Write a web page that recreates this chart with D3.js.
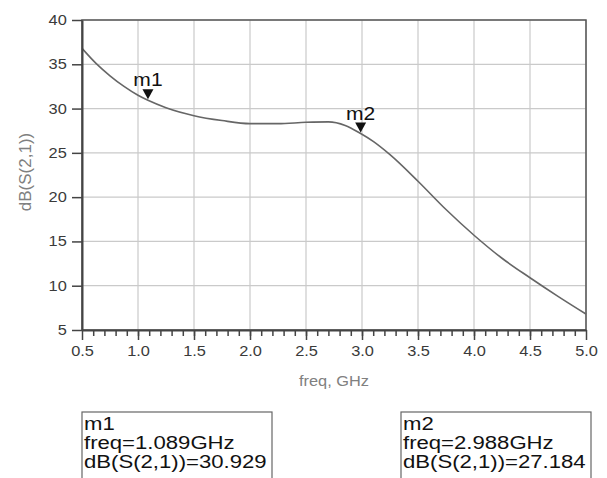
<!DOCTYPE html>
<html>
<head>
<meta charset="utf-8">
<script src="https://d3js.org/d3.v7.min.js"></script>
<style>
    body { margin: 0; background: #fff; }
    svg { display: block; font-family: "Liberation Sans", Arial, sans-serif; }
</style>
</head>
<body>
<script>
    // curve readings (freq in GHz, gain in dB)
    const freq = [0.5, 0.625, 0.75, 0.875, 1.0, 1.089, 1.25, 1.5, 1.75, 2.0, 2.25, 2.5, 2.7,
        2.85, 2.988, 3.1, 3.25, 3.5, 3.75, 4.0, 4.25, 4.5, 4.75, 5.0];
    const gain = [36.8, 35.1, 33.7, 32.5, 31.5, 30.929, 30.1, 29.2, 28.65, 28.3, 28.3, 28.45, 28.5,
        28.1, 27.184, 26.3, 24.8, 21.8, 18.6, 15.7, 13.1, 10.9, 8.8, 6.8];

    const marker_names = ["m1", "m2"];
    const marker_freq = [1.089, 2.988];
    const marker_val = [30.929, 27.184];

    const x_ticks = [0.5, 1.0, 1.5, 2.0, 2.5, 3.0, 3.5, 4.0, 4.5, 5.0];
    const y_ticks = [5, 10, 15, 20, 25, 30, 35, 40];

    const svg_w = 607, svg_h = 478;
    const left_marg = 82, right_edge = 586, top_marg = 20, bottom_edge = 330;
    const stretch = 1.17;

    let svg = d3.select("body").append("svg")
        .attr("width", svg_w)
        .attr("height", svg_h);

    let x_scale = d3.scaleLinear().domain([0.5, 5]).range([left_marg, right_edge]);
    let y_scale = d3.scaleLinear().domain([5, 40]).range([bottom_edge, top_marg]);

    // grid
    svg.append("g").selectAll("line")
        .data(x_ticks)
        .join("line")
        .attr("x1", d => x_scale(d)).attr("x2", d => x_scale(d))
        .attr("y1", top_marg).attr("y2", bottom_edge)
        .attr("stroke", "#cacaca").attr("stroke-width", 1.2);
    svg.append("g").selectAll("line")
        .data(y_ticks)
        .join("line")
        .attr("x1", left_marg).attr("x2", right_edge)
        .attr("y1", d => y_scale(d)).attr("y2", d => y_scale(d))
        .attr("stroke", "#cacaca").attr("stroke-width", 1.2);

    // frame
    svg.append("rect")
        .attr("x", left_marg).attr("y", top_marg)
        .attr("width", right_edge - left_marg).attr("height", bottom_edge - top_marg)
        .attr("fill", "none").attr("stroke", "#555").attr("stroke-width", 1.5);

    // curve
    svg.append("path")
        .datum(freq.map((f, i) => [f, gain[i]]))
        .attr("fill", "none")
        .attr("stroke", "#666")
        .attr("stroke-width", 1.6)
        .attr("d", d3.line()
            .x(d => x_scale(d[0]))
            .y(d => y_scale(d[1]))
            .curve(d3.curveMonotoneX));

    // axes
    let x_axis = svg.append("g")
        .attr("transform", "translate(0," + bottom_edge + ")")
        .call(d3.axisBottom(x_scale).tickValues(x_ticks).tickFormat(d3.format(".1f"))
            .tickSize(10).tickSizeOuter(0).tickPadding(6));
    svg.append("g")
        .attr("transform", "translate(0," + bottom_edge + ")")
        .call(d3.axisBottom(x_scale).tickValues(d3.range(0.6, 5.0, 0.1))
            .tickSize(6).tickSizeOuter(0).tickFormat(""))
        .call(g => g.select(".domain").remove());

    let y_axis = svg.append("g")
        .attr("transform", "translate(" + left_marg + ",0)")
        .call(d3.axisLeft(y_scale).tickValues(y_ticks)
            .tickSize(10).tickSizeOuter(0).tickPadding(3));

    for (const g of [x_axis, y_axis]) {
        g.select(".domain").attr("stroke", "#444").attr("stroke-width", 2);
        g.selectAll(".tick text")
            .attr("fill", "#3a3a3a")
            .style("font-size", "14px")
            .style("font-family", "'Liberation Sans', Arial, sans-serif")
            .attr("transform", "scale(" + stretch + ",1)");
    }
    svg.selectAll(".tick line").attr("stroke", "#444").attr("stroke-width", 1.5);

    // axis titles
    svg.append("text")
        .text("freq, GHz")
        .attr("text-anchor", "middle")
        .attr("fill", "#808080")
        .style("font-size", "14px")
        .attr("transform", "translate(" + ((left_marg + right_edge) / 2) + ",386) scale(" + stretch + ",1)");

    svg.append("text")
        .text("dB(S(2,1))")
        .attr("text-anchor", "middle")
        .attr("fill", "#808080")
        .style("font-size", "17px")
        .attr("transform", "translate(31,172) rotate(-90)");

    // markers
    for (let i = 0; i < marker_names.length; i++) {
        const mx = x_scale(marker_freq[i]);
        const my = y_scale(marker_val[i]) - 1;
        svg.append("path")
            .attr("d", "M" + (mx - 5.5) + "," + (my - 10) + "L" + (mx + 5.5) + "," + (my - 10) +
                "L" + mx + "," + my + "Z")
            .attr("fill", "#111");
        svg.append("text")
            .text(marker_names[i])
            .attr("text-anchor", "middle")
            .attr("fill", "#111")
            .style("font-size", "18px")
            .attr("transform", "translate(" + mx + "," + (my - 13) + ") scale(" + stretch + ",1)");
    }

    // marker readout boxes
    const box_x = [82, 401];
    const box_w = 190;
    for (let i = 0; i < marker_names.length; i++) {
        svg.append("rect")
            .attr("x", box_x[i]).attr("y", 412)
            .attr("width", box_w).attr("height", 90)
            .attr("fill", "none").attr("stroke", "#666").attr("stroke-width", 1.2);
        const lines = [marker_names[i],
            "freq=" + marker_freq[i].toFixed(3) + "GHz",
            "dB(S(2,1))=" + marker_val[i].toFixed(3)];
        lines.forEach((t, j) => {
            svg.append("text")
                .text(t)
                .attr("fill", "#111")
                .style("font-size", "18px")
                .attr("transform", "translate(" + (box_x[i] + 2) + "," + (430 + j * 19) + ") scale(1.23,1)");
        });
    }
</script>
</body>
</html>
